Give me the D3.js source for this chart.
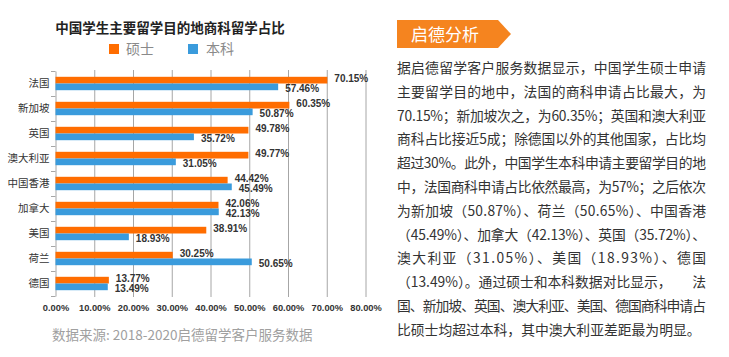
<!DOCTYPE html>
<html><head><meta charset="utf-8">
<script src="https://cdn.jsdelivr.net/npm/d3@7/dist/d3.min.js"></script>
<style>
html,body{margin:0;padding:0;background:#fff;}
svg{display:block;font-family:"Noto Sans CJK SC","Noto Sans",sans-serif;}
</style></head>
<body>
<svg id="c" width="729" height="357"></svg>
<script>
const categories = ["法国","新加坡","英国","澳大利亚","中国香港","加拿大","美国","荷兰","德国"];
const series = ["硕士","本科"];
const master = [70.15,60.35,49.78,49.77,44.42,42.06,38.91,30.25,13.77];
const bachelor = [57.46,50.87,35.72,31.05,45.49,42.13,18.93,50.65,13.49];
const xTicks = [0,10,20,30,40,50,60,70,80];
const colors = ["#FF6D00","#3A9BDC"];
const title = "中国学生主要留学目的地商科留学占比";
const source = "数据来源: 2018-2020启德留学客户服务数据";
const panelTitle = "启德分析";
const paragraph = [
 "据启德留学客户服务数据显示，中国学生硕士申请",
 "主要留学目的地中，法国的商科申请占比最大，为",
 "70.15%；新加坡次之，为60.35%；英国和澳大利亚",
 "商科占比接近5成；除德国以外的其他国家，占比均",
 "超过30%。此外，中国学生本科申请主要留学目的地",
 "中，法国商科申请占比依然最高，为57%；之后依次",
 "为新加坡（50.87%）、荷兰（50.65%）、中国香港",
 "（45.49%）、加拿大（42.13%）、英国（35.72%）、",
 "澳大利亚（31.05%）、美国（18.93%）、德国",
 "（13.49%）。通过硕士和本科数据对比显示，　　法",
 "国、新加坡、英国、澳大利亚、美国、德国商科申请占",
 "比硕士均超过本科，其中澳大利亚差距最为明显。"
];

const svg = d3.select("#c");
const x = d3.scaleLinear().domain([0,80]).range([55.5,365.5]);
const y = d3.scaleBand().domain(categories).range([71,296]);
const sub = d3.scaleBand().domain(series).range([5.8,19.2]);
const numFont = "\"Liberation Sans\",Arial,sans-serif";

// title
svg.append("text").attr("x",170).attr("y",33).attr("text-anchor","middle")
  .attr("font-size",13.5).attr("font-weight","bold").attr("fill","#222").text(title);

// legend
const lg = svg.append("g");
[[109,126],[188,206]].forEach((p,i)=>{
  lg.append("rect").attr("x",p[0]).attr("y",44).attr("width",10).attr("height",10).attr("fill",colors[i]);
  lg.append("text").attr("x",p[1]).attr("y",54).attr("font-size",14).attr("fill","#8a8a8a").text(series[i]);
});

// gridlines
svg.append("g").selectAll("line").data(xTicks.slice(1)).join("line")
  .attr("x1",d=>x(d)+0.5).attr("x2",d=>x(d)+0.5).attr("y1",70).attr("y2",297)
  .attr("stroke","#a6a6a6").attr("stroke-width",1);

// y axis
const yAxis = d3.axisLeft(y).tickSize(0).tickPadding(6);
const ya = svg.append("g").attr("transform","translate(55.5,0)").call(yAxis);
ya.select(".domain").attr("stroke","#a6a6a6");
ya.selectAll("text").attr("font-size",10.5).attr("fill","#333").attr("font-family","\"Noto Sans CJK SC\",sans-serif");
const bounds = categories.map(c=>y(c)).concat([y.range()[1]]);
svg.append("g").selectAll("line").data(bounds).join("line")
  .attr("x1",51).attr("x2",55.5).attr("y1",d=>Math.round(d)+0.5).attr("y2",d=>Math.round(d)+0.5)
  .attr("stroke","#a6a6a6");

// x axis labels
const xAxis = d3.axisBottom(x).tickValues(xTicks).tickSize(0).tickPadding(0)
  .tickFormat(d=>d.toFixed(2)+"%");
const xa = svg.append("g").attr("transform","translate(0,304)").call(xAxis);
xa.select(".domain").remove();
xa.selectAll("text").attr("font-size",9.3).attr("font-weight","bold").attr("fill","#333")
  .attr("font-family",numFont);

// bars
const data = categories.map((c,i)=>({c, vals:[master[i],bachelor[i]]}));
const g = svg.append("g");
data.forEach(d=>{
  d.vals.forEach((v,j)=>{
    const yy = y(d.c)+sub(series[j]);
    g.append("rect").attr("x",x(0)).attr("y",yy).attr("width",x(v)-x(0)).attr("height",sub.bandwidth())
      .attr("fill",colors[j]);
    g.append("text").attr("x",x(v)+7).attr("y",yy+sub.bandwidth()/2+3.6+(j===0?-1.5:1.5))
      .attr("font-size",10).attr("font-weight","bold").attr("fill","#333")
      .attr("font-family",numFont)
      .text(v.toFixed(2)+"%");
  });
});

// source
svg.append("text").attr("x",52).attr("y",340).attr("font-size",13.5).attr("fill","#a0a0a0").text(source);

// panel header
svg.append("path").attr("d","M397,20 L498,20 L511,34 L498,48 L397,48 Z").attr("fill","#F5841F");
svg.append("text").attr("x",411).attr("y",40.5).attr("font-size",17).attr("fill","#fff").text(panelTitle);

// paragraph
const pg = svg.append("g");
paragraph.forEach((line,i)=>{
  const t = pg.append("text").attr("x",397).attr("y",73+i*23.8).attr("font-size",13.8).attr("fill","#333").text(line);
  if(i<paragraph.length-1) t.attr("textLength",309).attr("lengthAdjust","spacing");
});
</script>
</body></html>
